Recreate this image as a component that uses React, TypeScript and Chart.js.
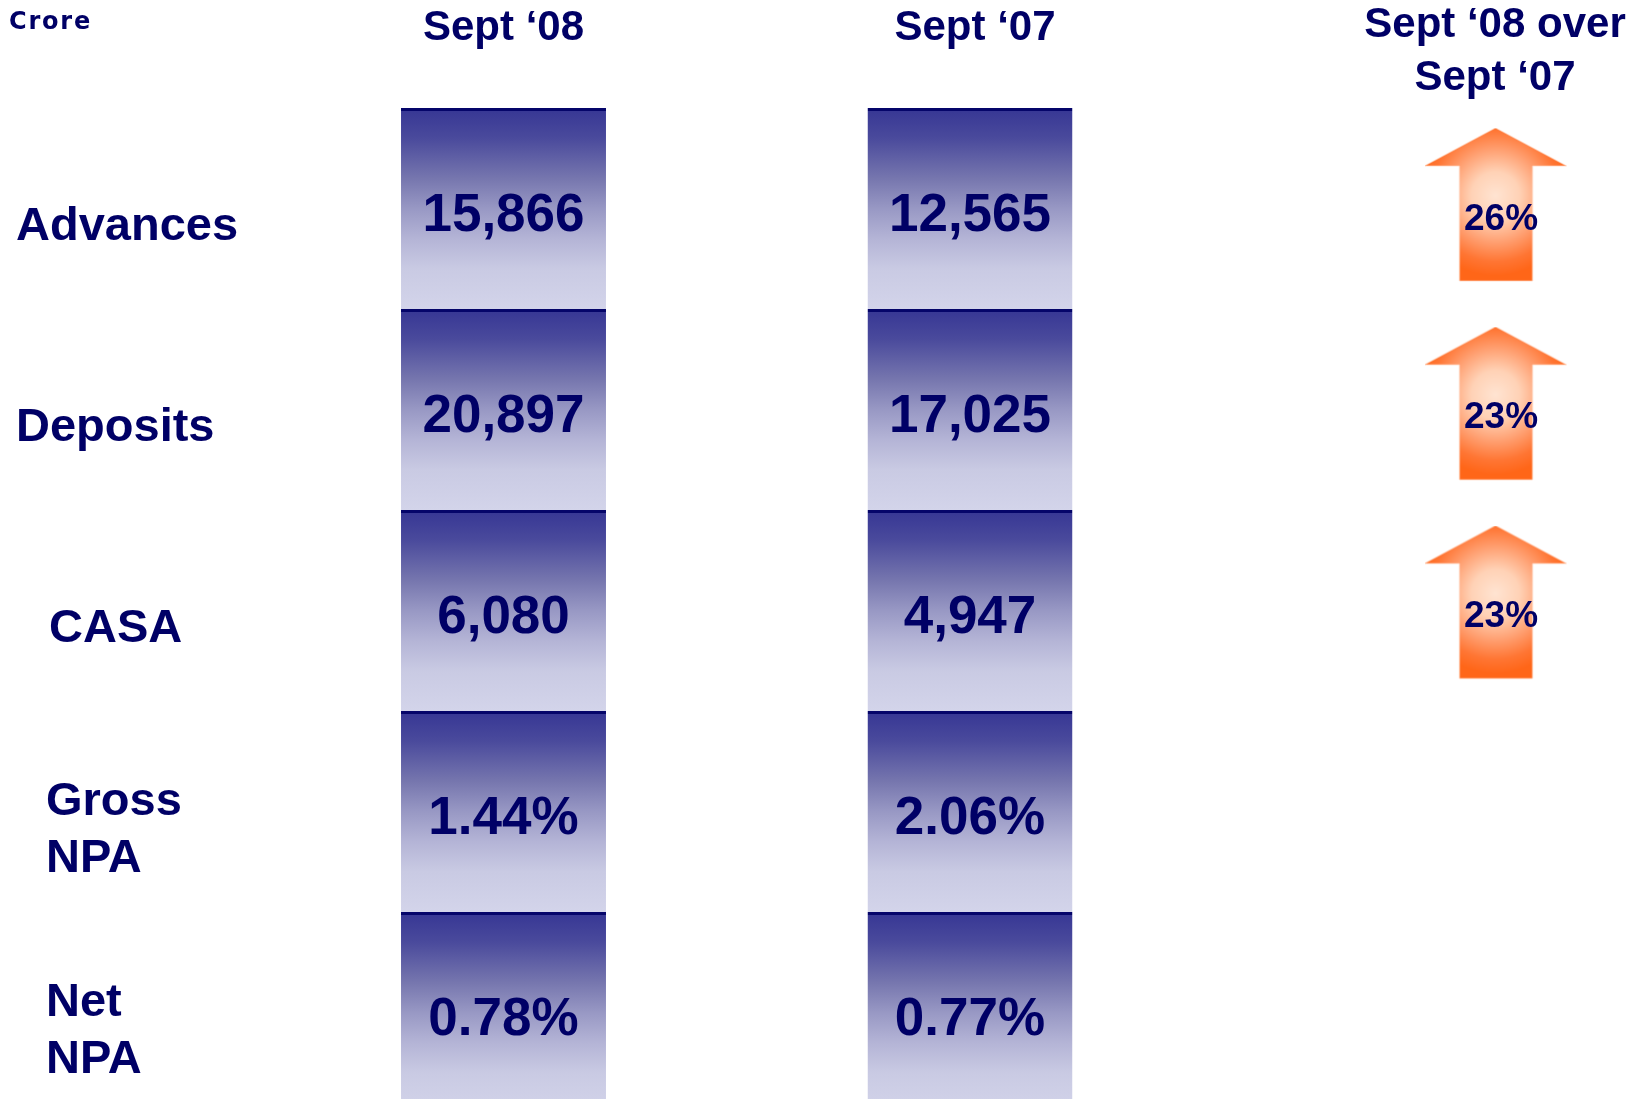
import React, { useEffect, useRef } from 'react';
import { Chart, registerables } from 'chart.js';

Chart.register(...registerables);

// ---------------- data ----------------
const unitLabel = 'Crore';
const rowLabels: string[][] = [['Advances'], ['Deposits'], ['CASA'], ['Gross', 'NPA'], ['Net', 'NPA']];
const periods = ['Sept ‘08', 'Sept ‘07'];
const sept08Values = [15866, 20897, 6080, 1.44, 0.78];
const sept07Values = [12565, 17025, 4947, 2.06, 0.77];
const valueKinds = ['amount', 'amount', 'amount', 'percent', 'percent'];
const growthHeader = ['Sept ‘08 over', 'Sept ‘07'];
const growthPct = [26, 23, 23];

// ---------------- layout / style ----------------
const W = 1636;
const VIEW_H = 1099;
const CANVAS_H = 1113;
const FONT = "'Liberation Sans', Arial, Helvetica, sans-serif";
const UNIT_FONT = "'DejaVu Sans', Verdana, sans-serif";
const NAVY = '#000066';
const labelIndent = [16, 16, 49, 46, 46];

function fmt(v: number, kind: string) {
  return kind === 'percent' ? v.toFixed(2) + '%' : v.toLocaleString('en-US');
}

function text(
  ctx: CanvasRenderingContext2D,
  s: string,
  x: number,
  baseline: number,
  size: number,
  align: CanvasTextAlign = 'center',
  spacing?: string,
  family: string = FONT
) {
  ctx.save();
  ctx.font = `bold ${size}px ${family}`;
  ctx.fillStyle = NAVY;
  ctx.textAlign = align;
  ctx.textBaseline = 'alphabetic';
  if (spacing) (ctx as any).letterSpacing = spacing;
  ctx.fillText(s, x, baseline);
  ctx.restore();
}

function makeArrow(): HTMLCanvasElement {
  const c = document.createElement('canvas');
  const w = 143, h = 159, ah = 153;
  c.width = w; c.height = h;
  const g = c.getContext('2d')!;
  const cx = 71;
  g.beginPath();
  g.moveTo(cx, 0);
  g.lineTo(142, 38);
  g.lineTo(108, 38);
  g.lineTo(108, ah);
  g.lineTo(35, ah);
  g.lineTo(35, 38);
  g.lineTo(0, 38);
  g.closePath();
  const rg = g.createRadialGradient(cx, 68, 0, cx, 68, 80);
  rg.addColorStop(0, '#ffe4d2');
  rg.addColorStop(0.3, '#ffd2b6');
  rg.addColorStop(0.6, '#ff9c6c');
  rg.addColorStop(0.82, '#ff7634');
  rg.addColorStop(1, '#ff6618');
  g.fillStyle = rg;
  g.fill();
  g.strokeStyle = 'rgba(255,205,180,0.7)';
  g.lineWidth = 1;
  g.stroke();
  return c;
}

export default function App() {
  const tableRef = useRef<HTMLCanvasElement>(null);
  const growthRef = useRef<HTMLCanvasElement>(null);

  useEffect(() => {
    document.body.style.margin = '0';
    document.body.style.overflow = 'hidden';
    document.documentElement.style.overflow = 'hidden';

    const cellGradient = (context: any) => {
      const chart = context.chart;
      const y = chart.scales && chart.scales.y;
      if (!y || context.datasetIndex === undefined) return '#9898c4';
      const i = context.datasetIndex;
      const top = y.getPixelForValue(i);
      const bot = y.getPixelForValue(i + 1);
      if (!isFinite(top) || !isFinite(bot)) return '#9898c4';
      const g = chart.ctx.createLinearGradient(0, top, 0, bot);
      g.addColorStop(0, '#363694');
      g.addColorStop(0.15, '#4a4a9c');
      g.addColorStop(0.35, '#7676ae');
      g.addColorStop(0.5, '#9898c4');
      g.addColorStop(0.65, '#b4b4d6');
      g.addColorStop(0.8, '#c9cae3');
      g.addColorStop(1, '#d3d4ea');
      return g;
    };

    const tablePlugin = {
      id: 'tableText',
      afterDatasetsDraw(chart: any) {
        const ctx = chart.ctx as CanvasRenderingContext2D;
        const yScale = chart.scales.y;
        const xScale = chart.scales.x;
        // values in cells
        rowLabels.forEach((_, i) => {
          const meta = chart.getDatasetMeta(i);
          meta.data.forEach((bar: any, j: number) => {
            const v = j === 0 ? sept08Values[i] : sept07Values[i];
            const cy = (bar.y + bar.base) / 2 + 4;
            text(ctx, fmt(v, valueKinds[i]), bar.x, cy + 53 * 0.358, 53);
          });
        });
        // headers
        periods.forEach((p, j) => {
          text(ctx, p, xScale.getPixelForValue(j) + j * 5, 40, 42);
        });
        // unit
        text(ctx, unitLabel, 9, 29, 24, 'left', '1.8px', UNIT_FONT);
        // row labels
        rowLabels.forEach((lines, i) => {
          const rc = (yScale.getPixelForValue(i) + yScale.getPixelForValue(i + 1)) / 2 + 15;
          const lh = 56.5;
          lines.forEach((ln, k) => {
            const cc = rc + (k - (lines.length - 1) / 2) * lh;
            text(ctx, ln, labelIndent[i], cc + 47 * 0.358, 47, 'left');
          });
        });
      },
    };

    const table = new Chart(tableRef.current!, {
      type: 'bar',
      data: {
        labels: periods,
        datasets: rowLabels.map((lines, i) => ({
          label: lines.join(' '),
          data: periods.map(() => [i, i + 1]) as any,
          backgroundColor: cellGradient,
          borderColor: '#05056a',
          borderWidth: { top: 3, right: 0, bottom: 0, left: 0 },
          borderSkipped: false,
          categoryPercentage: 1,
          barPercentage: 0.4394,
        })),
      },
      options: {
        responsive: false,
        animation: false,
        layout: { padding: { left: 270.25, right: 432.75, top: 108, bottom: 0 } },
        plugins: { legend: { display: false }, tooltip: { enabled: false } },
        scales: {
          x: { type: 'category', display: false, stacked: true, offset: true },
          y: { type: 'linear', display: false, reverse: true, min: 0, max: 5 },
        },
      },
      plugins: [tablePlugin],
    });

    const arrow = makeArrow();
    const growthPlugin = {
      id: 'growthText',
      afterDatasetsDraw(chart: any) {
        const ctx = chart.ctx as CanvasRenderingContext2D;
        const meta = chart.getDatasetMeta(0);
        meta.data.forEach((pt: any, i: number) => {
          text(ctx, growthPct[i] + '%', pt.x + 5, pt.y + 9 + 37 * 0.358, 37);
        });
        const cx = chart.scales.x.getPixelForValue(0);
        text(ctx, growthHeader[0], cx - 1, 37, 42);
        text(ctx, growthHeader[1], cx - 1, 89.5, 42);
      },
    };

    const growth = new Chart(growthRef.current!, {
      type: 'scatter',
      data: {
        datasets: [
          {
            label: growthHeader.join(' '),
            data: growthPct.map((_, i) => ({ x: 0, y: i + 0.5 })),
            pointStyle: arrow as any,
            pointRadius: 10,
            showLine: false,
          },
        ],
      },
      options: {
        responsive: false,
        animation: false,
        layout: { padding: { left: 1380, right: 24, top: 108, bottom: 0 } },
        plugins: { legend: { display: false }, tooltip: { enabled: false } },
        scales: {
          x: { type: 'linear', display: false, min: -1, max: 1 },
          y: { type: 'linear', display: false, reverse: true, min: 0, max: 5 },
        },
      },
      plugins: [growthPlugin],
    });

    return () => {
      table.destroy();
      growth.destroy();
    };
  }, []);

  return (
    <div style={{ position: 'relative', width: W, height: VIEW_H, overflow: 'hidden', background: '#ffffff' }}>
      <canvas ref={tableRef} width={W} height={CANVAS_H} style={{ position: 'absolute', left: 0, top: 0, display: 'block' }} />
      <canvas ref={growthRef} width={W} height={CANVAS_H} style={{ position: 'absolute', left: 0, top: 0, display: 'block' }} />
    </div>
  );
}
